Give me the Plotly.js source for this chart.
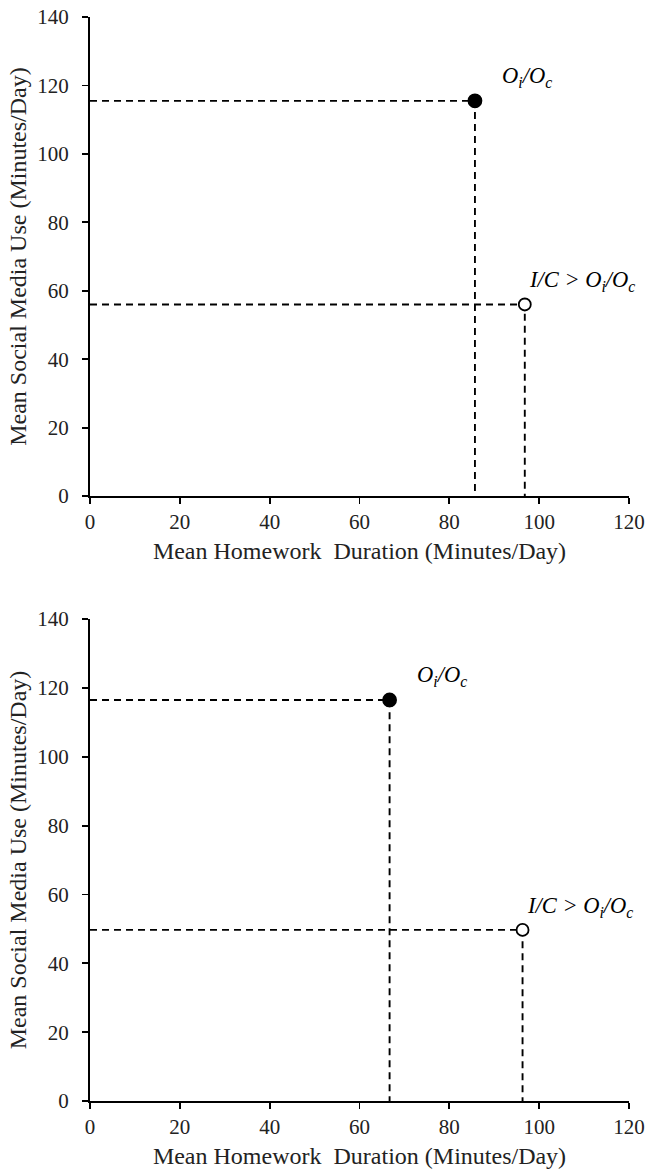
<!DOCTYPE html>
<html>
<head>
<meta charset="utf-8">
<script src="https://cdn.plot.ly/plotly-3.0.1.min.js"></script>
<style>html,body{margin:0;padding:0;background:#fff;}#chart{width:647px;height:1175px;}</style>
</head>
<body>
<div id="chart"></div>
<script>
// Panel A (top)
const topHomework = [85.7, 96.8];
const topSocial = [115.5, 56.0];
// Panel B (bottom)
const botHomework = [66.7, 96.3];
const botSocial = [116.5, 49.7];
const pointLabels = ["<i>O<sub>i</sub>/O<sub>c</sub></i>", "<i>I/C &gt; O<sub>i</sub>/O<sub>c</sub></i>"];
const pointFilled = [true, false];
const xTicks = [0, 20, 40, 60, 80, 100, 120];
const yTicks = [0, 20, 40, 60, 80, 100, 120, 140];
const xTitle = "Mean Homework  Duration (Minutes/Day)";
const yTitle = "Mean Social Media Use (Minutes/Day)";

const FONT = "Liberation Serif, Times New Roman, serif";
const traces = [];
const annotations = [];

function addPanel(xs, ys, xa, ya) {
  for (let i = 0; i < xs.length; i++) {
    traces.push({
      type: "scatter", mode: "lines", xaxis: xa, yaxis: ya,
      x: [0, xs[i], xs[i]], y: [ys[i], ys[i], 0],
      line: {color: "#000", width: 1.9, dash: "7px,5px"},
      hoverinfo: "skip", showlegend: false
    });
  }
  for (let i = 0; i < xs.length; i++) {
    traces.push({
      type: "scatter", mode: "markers", xaxis: xa, yaxis: ya,
      x: [xs[i]], y: [ys[i]],
      marker: {size: pointFilled[i] ? 13 : 12, color: pointFilled[i] ? "#000" : "#fff",
               line: {color: "#000", width: 1.8}},
      showlegend: false
    });
    annotations.push({
      xref: xa, yref: ya, x: xs[i], y: ys[i],
      text: pointLabels[i], showarrow: false,
      xanchor: "left", yanchor: "middle",
      xshift: pointFilled[i] ? 25 : 2, yshift: pointFilled[i] ? 24 : 23,
      font: {family: FONT, size: 22.5, color: "#000"}
    });
  }
}
addPanel(topHomework, topSocial, "x", "y");
addPanel(botHomework, botSocial, "x2", "y2");

function xAxis(anchor) {
  return {
    anchor: anchor, domain: [0, 1], range: [0, 120], tickvals: xTicks,
    showgrid: false, zeroline: false, showline: true, linecolor: "#000", linewidth: 2,
    ticks: "outside", ticklen: 6, tickwidth: 1.8, tickcolor: "#000",
    tickfont: {family: FONT, size: 21, color: "#222"},
    title: {text: xTitle, font: {family: FONT, size: 24, color: "#222"}, standoff: 9},
    fixedrange: true
  };
}
function yAxis(anchor, dom) {
  return {
    anchor: anchor, domain: dom, range: [0, 140], tickvals: yTicks,
    showgrid: false, zeroline: false, showline: true, linecolor: "#000", linewidth: 2,
    ticks: "outside", ticklen: 6, tickwidth: 1.8, tickcolor: "#000",
    ticklabelstandoff: 9,
    tickfont: {family: FONT, size: 21, color: "#222"},
    title: {text: yTitle, font: {family: FONT, size: 24, color: "#222"}, standoff: 4},
    fixedrange: true
  };
}

const layout = {
  width: 647, height: 1175,
  margin: {l: 90, r: 18, t: 17, b: 74},
  paper_bgcolor: "#fff", plot_bgcolor: "#fff",
  showlegend: false,
  xaxis: xAxis("y"), yaxis: yAxis("x", [0.558, 1]),
  xaxis2: xAxis("y2"), yaxis2: yAxis("x2", [0, 0.4446]),
  annotations: annotations
};

Plotly.newPlot("chart", traces, layout, {displayModeBar: false, staticPlot: true});
</script>
</body>
</html>
